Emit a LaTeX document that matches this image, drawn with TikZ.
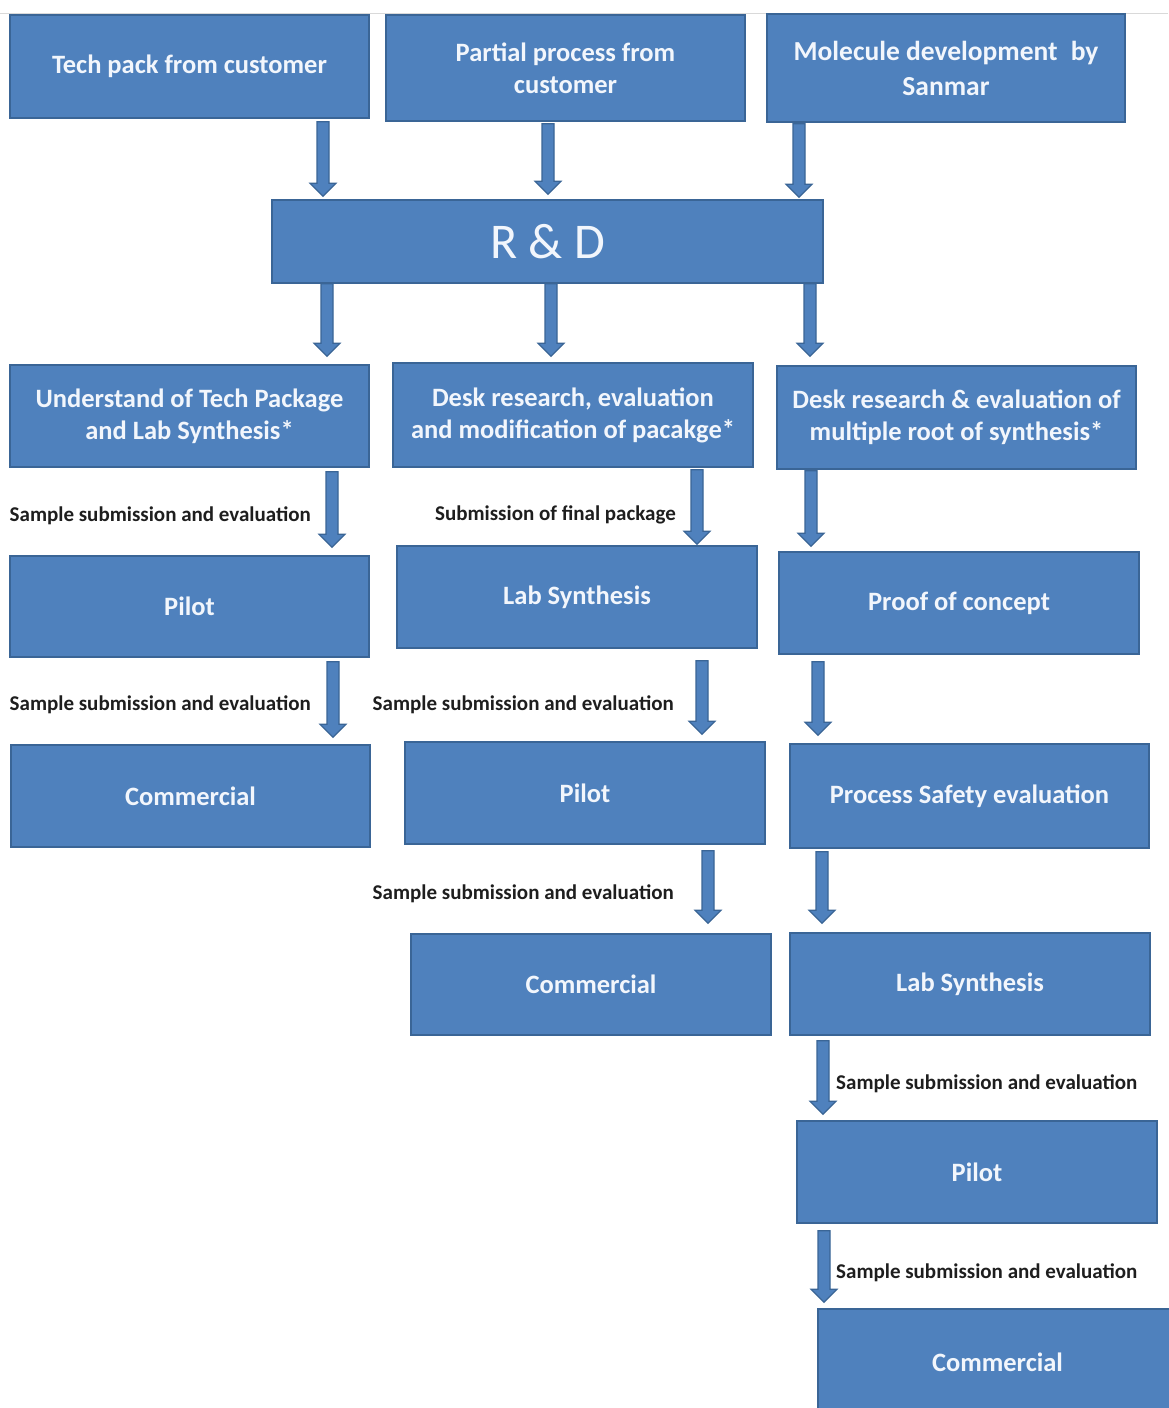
\documentclass[tikz,border=0pt]{standalone}
\usepackage{fontspec}
\setmainfont{Carlito}
\usetikzlibrary{calc}

\definecolor{boxfill}{HTML}{4F81BD}
\definecolor{boxline}{HTML}{3A6596}
\definecolor{labeltext}{HTML}{1E1E1E}
\definecolor{boxtext}{HTML}{F2F6FC}

% Block arrow pointing down, drawn from a start point to a tip point
\newcommand\flowarrow[2]{%
  \draw[blockarrow] let \p1=(#1), \p2=(#2) in
    (\x1-6pt,\y1) -- (\x1-6pt,\y2+13pt) -- (\x1-13pt,\y2+13pt) -- (\x1,\y2)
    -- (\x1+13pt,\y2+13pt) -- (\x1+6pt,\y2+13pt) -- (\x1+6pt,\y1) -- cycle;}

\tikzset{
  stagebox/.style={draw=boxline, line width=1.6pt, fill=boxfill, inner sep=0pt,
    text=boxtext, align=center, font=\bfseries\fontsize{26.5}{32}\selectfont},
  blockarrow/.style={draw=boxline, line width=1.2pt, fill=boxfill, line join=miter},
  steplabel/.style={inner sep=0pt, text=labeltext, font=\bfseries\fontsize{21}{25}\selectfont}
}

\begin{document}
\begin{tikzpicture}[x=1pt, y=-1pt]
\useasboundingbox (0,0) rectangle (1168,1408);
\fill[white] (0,0) rectangle (1168,1408);
\draw[black!15, line width=1pt] (0,13) -- (1168,13);

% sources
\node[stagebox, minimum width=359pt, minimum height=103pt] (A1) at (189.5,66.5) {Tech pack from customer};
\node[stagebox, minimum width=359pt, minimum height=106pt] (A2) at (565.5,68) {Partial process from\\customer};
\node[stagebox, minimum width=358pt, minimum height=108pt, font=\bfseries\fontsize{27.5}{35}\selectfont] (A3) at (946,68) {Molecule development\hspace{0.25em} by\\Sanmar};

% R & D
\node[stagebox, minimum width=551pt, minimum height=83pt, font=\fontsize{50}{56}\selectfont] (R) at (547.5,241.5) {R \& D};

% first stage per route
\node[stagebox, minimum width=359pt, minimum height=102pt] (B1) at (189.5,416) {Understand of Tech Package\\and Lab Synthesis*};
\node[stagebox, minimum width=360pt, minimum height=104pt] (B2) at (573,415) {Desk research, evaluation\\and modification of pacakge*};
\node[stagebox, minimum width=359pt, minimum height=103pt] (B3) at (956.5,417.5) {Desk research \& evaluation of\\multiple root of synthesis*};

% route 1
\node[stagebox, minimum width=359pt, minimum height=101pt] (C1) at (189.5,606.5) {Pilot};
\node[stagebox, minimum width=359pt, minimum height=102pt] (D1) at (190.5,796) {Commercial};

% route 2
\node[stagebox, minimum width=360pt, minimum height=102pt] (C2) at (577,597) {Lab Synthesis};
\node[stagebox, minimum width=360pt, minimum height=102pt] (D2) at (585,793) {Pilot};
\node[stagebox, minimum width=360pt, minimum height=101pt] (E2) at (591,984.5) {Commercial};

% route 3
\node[stagebox, minimum width=360pt, minimum height=102pt] (C3) at (959,603) {Proof of concept};
\node[stagebox, minimum width=359pt, minimum height=104pt] (D3) at (969.5,796) {Process Safety evaluation};
\node[stagebox, minimum width=360pt, minimum height=102pt] (E3) at (970,984) {Lab Synthesis};
\node[stagebox, minimum width=360pt, minimum height=102pt] (F3) at (977,1172) {Pilot};
\node[stagebox, minimum width=359pt, minimum height=112pt] (G3) at (997.5,1365) {\raisebox{5pt}{Commercial}};

% arrows into R & D
\flowarrow{[xshift=133.5pt,yshift=-3pt]A1.south}{[xshift=133.5pt,yshift=3pt]R.north}
\flowarrow{[xshift=-17.5pt,yshift=-2pt]A2.south}{[yshift=5pt]R.north}
\flowarrow{[xshift=-147pt,yshift=-1pt]A3.south}{[yshift=2pt]R.north}

% arrows out of R & D
\flowarrow{[xshift=-220.5pt]R.south}{[yshift=8pt]B1.north}
\flowarrow{[xshift=3.5pt]R.south}{[yshift=6pt]B2.north}
\flowarrow{[xshift=262.5pt]R.south}{[yshift=9pt]B3.north}

% route 1 arrows
\flowarrow{[xshift=142.5pt,yshift=-4pt]B1.south}{[yshift=8pt]C1.north}
\flowarrow{[xshift=143.5pt,yshift=-4pt]C1.south}{[yshift=7pt]D1.north}

% route 2 arrows
\flowarrow{[xshift=124pt,yshift=-2pt]B2.south}{[yshift=1pt]C2.north}
\flowarrow{[xshift=125pt,yshift=-12pt]C2.south}{[yshift=7pt]D2.north}
\flowarrow{[xshift=123pt,yshift=-6pt]D2.south}{[yshift=10pt]E2.north}

% route 3 arrows
\flowarrow{[xshift=-145.5pt,yshift=-1pt]B3.south}{[yshift=5pt]C3.north}
\flowarrow{[xshift=-141pt,yshift=-7pt]C3.south}{[yshift=8pt]D3.north}
\flowarrow{[xshift=-147.5pt,yshift=-3pt]D3.south}{[yshift=9pt]E3.north}
\flowarrow{[xshift=-147pt,yshift=-5pt]E3.south}{[yshift=6pt]F3.north}
\flowarrow{[xshift=-153pt,yshift=-7pt]F3.south}{[yshift=6pt]G3.north}

% arrow captions
\node[steplabel, anchor=east] (L1) at (311,516) {Sample submission and evaluation};
\node[steplabel, anchor=east] (L2) at (311,705) {Sample submission and evaluation};
\node[steplabel, anchor=east] (L3) at (676,515) {Submission of final package};
\node[steplabel, anchor=east] (L4) at (674,705) {Sample submission and evaluation};
\node[steplabel, anchor=east] (L5) at (674,894) {Sample submission and evaluation};
\node[steplabel, anchor=west] (L6) at (836,1084) {Sample submission and evaluation};
\node[steplabel, anchor=west] (L7) at (836,1273) {Sample submission and evaluation};
\end{tikzpicture}
\end{document}
